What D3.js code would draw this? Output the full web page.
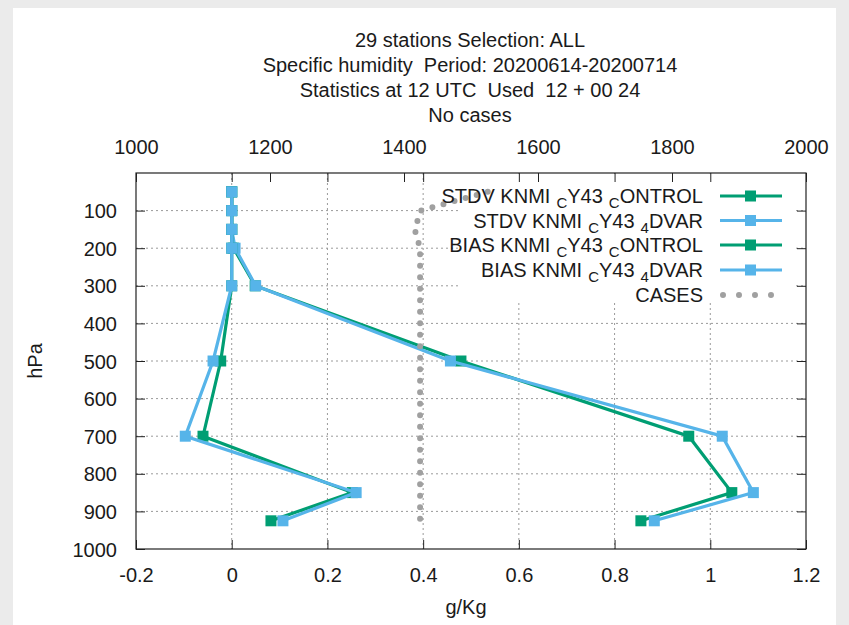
<!DOCTYPE html>
<html>
<head>
<meta charset="utf-8">
<script src="https://cdn.jsdelivr.net/npm/d3@7"></script>
<style>
html,body{margin:0;padding:0;background:#ebebeb;}
svg{display:block;}
text{font-family:"Liberation Sans",Arial,sans-serif;fill:#1a1a1a;white-space:pre;}
</style>
</head>
<body>
<svg id="chart" width="849" height="625"></svg>
<script>
// ---- data ----
const titleLines = ["29 stations Selection: ALL", "Specific humidity  Period: 20200614-20200714", "Statistics at 12 UTC  Used  12 + 00 24", "No cases"];
const levels = [50, 100, 150, 200, 300, 500, 700, 850, 925];
const stdvControl = [0, 0, 0, 0.004, 0.049, 0.479, 0.955, 1.045, 0.855];
const stdv4dvar   = [0, 0, 0, 0.007, 0.050, 0.457, 1.025, 1.090, 0.883];
const biasControl = [0, 0, 0, 0, 0, -0.023, -0.060, 0.252, 0.082];
const bias4dvar   = [0, 0, 0, 0, 0, -0.039, -0.097, 0.260, 0.107];
const cases       = [1525, 1425, 1416, 1424, 1424, 1424, 1424, 1424, 1424];
const xTicks  = [-0.2, 0, 0.2, 0.4, 0.6, 0.8, 1, 1.2];
const x2Ticks = [1000, 1200, 1400, 1600, 1800, 2000];
const yTicks  = [100, 200, 300, 400, 500, 600, 700, 800, 900, 1000];
const seriesNames = [
  ["STDV KNMI", {s:"C"}, "Y43", {s:"C"}, "ONTROL"],
  ["STDV KNMI", {s:"C"}, "Y43", {s:"4"}, "DVAR"],
  ["BIAS KNMI", {s:"C"}, "Y43", {s:"C"}, "ONTROL"],
  ["BIAS KNMI", {s:"C"}, "Y43", {s:"4"}, "DVAR"],
  ["CASES"]
];
const GREEN = "#009e73", BLUE = "#56b4e9", GRAY = "#a0a0a0";
const FS = 20;

// ---- layout ----
const svg = d3.select("#chart");
const L = 136, R = 806, T = 173, B = 549;
svg.append("rect").attr("x", 13).attr("y", 8).attr("width", 823).attr("height", 640).attr("fill", "#fff");

const x = d3.scaleLinear().domain([-0.2, 1.2]).range([L, R]);
const x2 = d3.scaleLinear().domain([1000, 2000]).range([L, R]);
const y = d3.scaleLinear().domain([0, 1000]).range([T, B]);
const fmt = v => String(+v.toFixed(2));

// grid
const grid = svg.append("g").attr("stroke", "#9a9a9a").attr("stroke-width", 1).attr("stroke-dasharray", "2,3");
xTicks.filter(v => v > -0.2 && v < 1.2).forEach(v => {
  grid.append("line").attr("x1", x(v)).attr("x2", x(v)).attr("y1", T).attr("y2", B);
});
yTicks.filter(v => v < 1000).forEach(v => {
  grid.append("line").attr("x1", L).attr("x2", R).attr("y1", y(v)).attr("y2", y(v));
});

// legend background (opaque over grid)
svg.append("rect").attr("x", 458).attr("y", T + 1).attr("width", 335).attr("height", 128).attr("fill", "#fff");

// axes
const tl = 9;
const axB = svg.append("g").attr("transform", `translate(0,${B})`)
  .call(d3.axisBottom(x).tickValues(xTicks).tickSizeInner(-tl).tickSizeOuter(0).tickPadding(19).tickFormat(fmt));
const axT = svg.append("g").attr("transform", `translate(0,${T})`)
  .call(d3.axisTop(x).tickValues(xTicks).tickSizeInner(-tl).tickSizeOuter(0).tickFormat(""));
const axT2 = svg.append("g").attr("transform", `translate(0,${T})`)
  .call(d3.axisTop(x2).tickValues(x2Ticks).tickSizeInner(-tl).tickSizeOuter(0).tickPadding(19).tickFormat(fmt));
const axL = svg.append("g").attr("transform", `translate(${L},0)`)
  .call(d3.axisLeft(y).tickValues(yTicks).tickSizeInner(-tl).tickSizeOuter(0).tickPadding(19).tickFormat(fmt));
const axR = svg.append("g").attr("transform", `translate(${R},0)`)
  .call(d3.axisRight(y).tickValues(yTicks).tickSizeInner(-tl).tickSizeOuter(0).tickFormat(""));
[axB, axT, axT2, axL, axR].forEach(a => {
  a.select(".domain").remove();
  a.selectAll("line").attr("stroke", "#222").attr("stroke-width", 1);
  a.selectAll("text").attr("font-size", FS).attr("fill", "#1a1a1a").attr("font-family", '"Liberation Sans",Arial,sans-serif');
});
axL.selectAll("text").attr("dy", "0.35em");
axB.selectAll("text").attr("dy", "0.72em");

// border
svg.append("rect").attr("x", L).attr("y", T).attr("width", R - L).attr("height", B - T)
  .attr("fill", "none").attr("stroke", "#222").attr("stroke-width", 1.2);

// series
const lineGen = (vals) => d3.line().x((d, i) => x(vals[i])).y((d) => y(d))(levels);
function drawSeries(vals, color) {
  svg.append("path").attr("d", lineGen(vals)).attr("fill", "none").attr("stroke", color)
    .attr("stroke-width", 3.2).attr("stroke-linejoin", "miter");
  svg.append("g").selectAll("rect").data(levels).join("rect")
    .attr("x", (d, i) => x(vals[i]) - 5.5).attr("y", d => y(d) - 5.5)
    .attr("width", 11).attr("height", 11).attr("fill", color);
}
drawSeries(stdvControl, GREEN);
drawSeries(stdv4dvar, BLUE);
drawSeries(biasControl, GREEN);
drawSeries(bias4dvar, BLUE);
svg.append("path").attr("d", d3.line().x((d, i) => x2(cases[i])).y(d => y(d))(levels))
  .attr("fill", "none").attr("stroke", GRAY).attr("stroke-width", 6)
  .attr("stroke-linecap", "round").attr("stroke-dasharray", "0,11.5");

// legend
const legY = [196, 220.5, 245, 270, 295];
const legColors = [GREEN, BLUE, GREEN, BLUE, GRAY];
seriesNames.forEach((parts, k) => {
  const t = svg.append("text").attr("x", 703).attr("y", legY[k] + 7).attr("text-anchor", "end").attr("font-size", FS);
  let sub = false;
  parts.forEach(p => {
    if (typeof p === "string") {
      t.append("tspan").attr("dy", sub ? -5 : 0).attr("font-size", FS).text(p);
      sub = false;
    } else {
      t.append("tspan").attr("dx", 6).attr("dy", 5).attr("font-size", 15).text(p.s);
      sub = true;
    }
  });
  if (k < 4) {
    svg.append("line").attr("x1", 720).attr("x2", 782).attr("y1", legY[k]).attr("y2", legY[k])
      .attr("stroke", legColors[k]).attr("stroke-width", 3.2);
    svg.append("rect").attr("x", 745).attr("y", legY[k] - 5.5).attr("width", 11).attr("height", 11).attr("fill", legColors[k]);
  } else {
    svg.append("line").attr("x1", 723).attr("x2", 775).attr("y1", legY[k]).attr("y2", legY[k])
      .attr("stroke", GRAY).attr("stroke-width", 6).attr("stroke-linecap", "round").attr("stroke-dasharray", "0,16");
  }
});

// titles
titleLines.forEach((s, i) => {
  svg.append("text").attr("x", 470).attr("y", 47 + i * 25).attr("text-anchor", "middle").attr("font-size", FS).text(s);
});
svg.append("text").attr("x", 466).attr("y", 614).attr("text-anchor", "middle").attr("font-size", FS).text("g/Kg");
svg.append("text").attr("transform", `translate(42,${(T + B) / 2}) rotate(-90)`).attr("text-anchor", "middle").attr("font-size", FS).text("hPa");
</script>
</body>
</html>
